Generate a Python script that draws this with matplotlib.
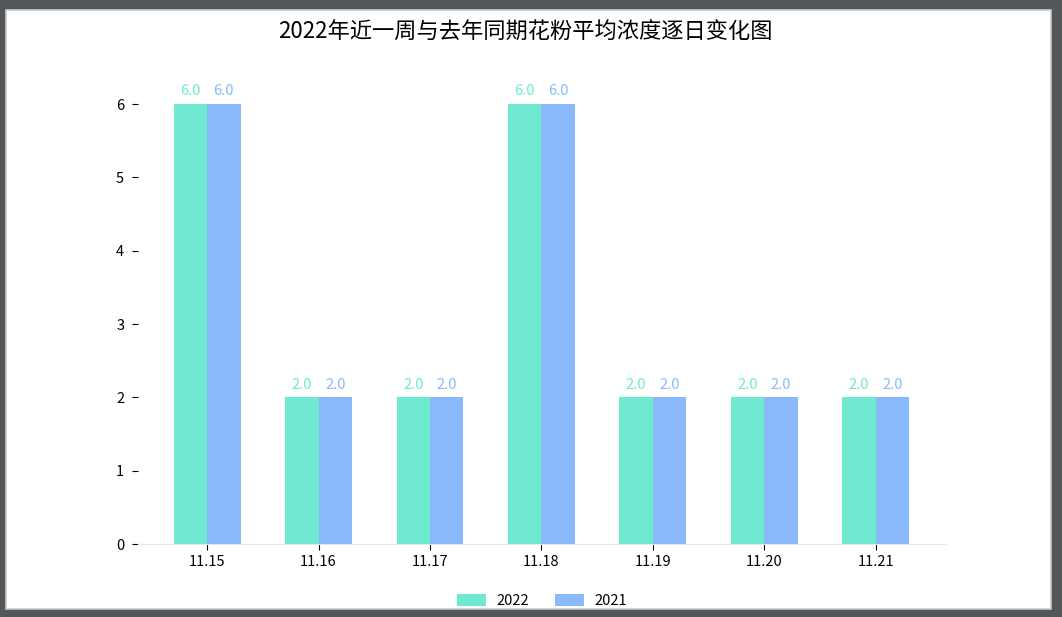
import matplotlib.pyplot as plt
import numpy as np
from matplotlib.patches import Rectangle

plt.rcParams['font.family'] = ['Noto Sans CJK SC', 'DejaVu Sans']

# ── data ──────────────────────────────────────────────────────────────────────
dates = ["11.15", "11.16", "11.17", "11.18", "11.19", "11.20", "11.21"]
vals_2022 = [6.0, 2.0, 2.0, 6.0, 2.0, 2.0, 2.0]
vals_2021 = [6.0, 2.0, 2.0, 6.0, 2.0, 2.0, 2.0]
series_names = ["2022", "2021"]
title = "2022年近一周与去年同期花粉平均浓度逐日变化图"

c22 = "#6fe9d0"
c21 = "#89b9fb"

W, H = 1062, 617
fig = plt.figure(figsize=(W / 100, H / 100), dpi=100, facecolor="#53575a")

# white panel with thin light frame (behind everything)
fig.patches.append(Rectangle((6 / W, 1 - 609 / H), (1051 - 6) / W, (609 - 10) / H,
                             transform=fig.transFigure, facecolor="white",
                             edgecolor="#c9c9c9", linewidth=1.2, zorder=-10))

ax = fig.add_axes([138 / W, 1 - 544 / H, (946 - 138) / W, (544 - 60) / H])
ax.set_facecolor("none")

x = np.arange(len(dates))
w = 0.3
b1 = ax.bar(x - w / 2, vals_2022, w, color=c22, label=series_names[0])
b2 = ax.bar(x + w / 2, vals_2021, w, color=c21, label=series_names[1])
ax.bar_label(b1, labels=[f"{v:.1f}" for v in vals_2022], padding=4, color=c22, fontsize=10.5)
ax.bar_label(b2, labels=[f"{v:.1f}" for v in vals_2021], padding=4, color=c21, fontsize=10.5)

ax.set_xlim(-0.62, len(dates) - 1 + 0.63)
ax.set_ylim(0, 484 / 73.33)
ax.set_xticks(x)
ax.set_xticklabels(dates)
ax.set_yticks(range(0, 7))
ax.tick_params(axis="y", length=4, width=0.8, labelsize=10.5, pad=6)
ax.tick_params(axis="x", length=4, width=0.8, labelsize=10.5, pad=4)

for s in ["top", "right", "left"]:
    ax.spines[s].set_visible(False)
ax.spines["bottom"].set_color("#e8e8e8")

fig.text(525 / W, 1 - 32 / H, title, ha="center", va="center", fontsize=16)

fig.legend(handles=[b1, b2], labels=series_names, loc="center",
           bbox_to_anchor=(542 / W, 1 - 601 / H), ncol=2, frameon=False,
           fontsize=10.5, handlelength=2.0, handleheight=0.8,
           handletextpad=0.7, columnspacing=1.8)

fig.savefig("out.png", dpi=100, facecolor=fig.get_facecolor())
